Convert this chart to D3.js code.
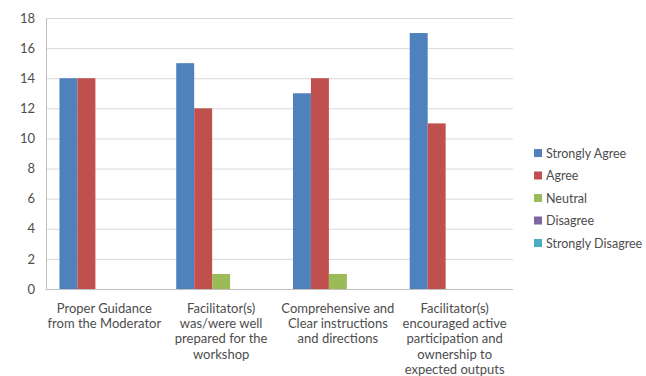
<!DOCTYPE html>
<html>
<head>
<meta charset="utf-8">
<script src="https://cdn.jsdelivr.net/npm/d3@7"></script>
<style>
body { margin: 0; background: #fff; }
text { font-family: Lato, "Open Sans", sans-serif; fill: #4d4d4d; }
</style>
</head>
<body>
<svg width="646" height="376"></svg>
<script>
var categories = ['c1', 'c2', 'c3', 'c4'];
var categoryLines = [
    ['Proper Guidance', 'from the Moderator'],
    ['Facilitator(s)', 'was/were well', 'prepared for the', 'workshop'],
    ['Comprehensive and', 'Clear instructions', 'and directions'],
    ['Facilitator(s)', 'encouraged active', 'participation and', 'ownership to', 'expected outputs']
];
var seriesNames = ['Strongly Agree', 'Agree', 'Neutral', 'Disagree', 'Strongly Disagree'];
var seriesColors = ['#4f81bd', '#c0504d', '#9bbb59', '#8064a2', '#4bacc6'];
var stronglyAgree = [14, 15, 13, 17];
var agree = [14, 12, 14, 11];
var neutral = [0, 1, 1, 0];
var disagree = [0, 0, 0, 0];
var stronglyDisagree = [0, 0, 0, 0];
var yTicks = [0, 2, 4, 6, 8, 10, 12, 14, 16, 18];

var allSeries = [stronglyAgree, agree, neutral, disagree, stronglyDisagree];

var svg = d3.select('svg');
var plotLeft = 46, plotRight = 513, plotTop = 18, plotBottom = 289;

var x = d3.scaleBand().domain(categories).range([plotLeft, plotRight]);
var x1 = d3.scaleBand().domain(seriesNames).range([0, x.bandwidth()])
    .paddingInner(0).paddingOuter(0.75);
var y = d3.scaleLinear().domain([0, 18]).range([plotBottom, plotTop]);

// gridlines
svg.append('g')
    .selectAll('line')
    .data(yTicks.slice(1))
    .enter()
    .append('line')
    .attr('x1', plotLeft).attr('x2', plotRight)
    .attr('y1', function(d){ return y(d) + 0.5; })
    .attr('y2', function(d){ return y(d) + 0.5; })
    .attr('stroke', '#d9d9d9')
    .attr('stroke-width', 1);

// bars
var rows = [];
categories.forEach(function(c, i){
    seriesNames.forEach(function(s, j){
        rows.push({cat: c, series: s, value: allSeries[j][i], color: seriesColors[j]});
    });
});

svg.append('g')
    .selectAll('rect')
    .data(rows.filter(function(d){ return d.value > 0; }))
    .enter()
    .append('rect')
    .attr('x', function(d){ return x(d.cat) + x1(d.series); })
    .attr('width', x1.bandwidth())
    .attr('y', function(d){ return y(d.value); })
    .attr('height', function(d){ return y(0) - y(d.value); })
    .attr('fill', function(d){ return d.color; });

// axes
var yAxis = svg.append('g')
    .attr('transform', 'translate(' + plotLeft + ',0)')
    .call(d3.axisLeft(y).tickValues(yTicks).tickSize(0).tickPadding(11));
yAxis.select('.domain').attr('stroke', '#bfbfbf');
yAxis.selectAll('text').style('font-size', '13px').attr('fill', '#4d4d4d');

svg.append('line')
    .attr('x1', plotLeft).attr('x2', plotRight)
    .attr('y1', plotBottom + 0.5).attr('y2', plotBottom + 0.5)
    .attr('stroke', '#bfbfbf');

// category labels
var labels = svg.append('g')
    .selectAll('text')
    .data(categories)
    .enter()
    .append('text')
    .attr('text-anchor', 'middle')
    .style('font-size', '13px')
    .attr('x', function(d){ return x(d) + x.bandwidth() / 2; })
    .attr('y', 313);

labels.selectAll('tspan')
    .data(function(d, i){ return categoryLines[i]; })
    .enter()
    .append('tspan')
    .attr('x', function(){ return this.parentNode.getAttribute('x'); })
    .attr('dy', function(d, i){ return i === 0 ? 0 : 15.2; })
    .text(function(d){ return d; });

// legend
var legend = svg.append('g')
    .selectAll('g')
    .data(seriesNames)
    .enter()
    .append('g')
    .attr('transform', function(d, i){ return 'translate(534,' + (153 + i * 22.5) + ')'; });

legend.append('rect')
    .attr('x', 0).attr('y', -4)
    .attr('width', 8).attr('height', 8)
    .attr('fill', function(d, i){ return seriesColors[i]; });

legend.append('text')
    .attr('x', 12)
    .attr('y', 4.5)
    .style('font-size', '12.5px')
    .text(function(d){ return d; });
</script>
</body>
</html>
